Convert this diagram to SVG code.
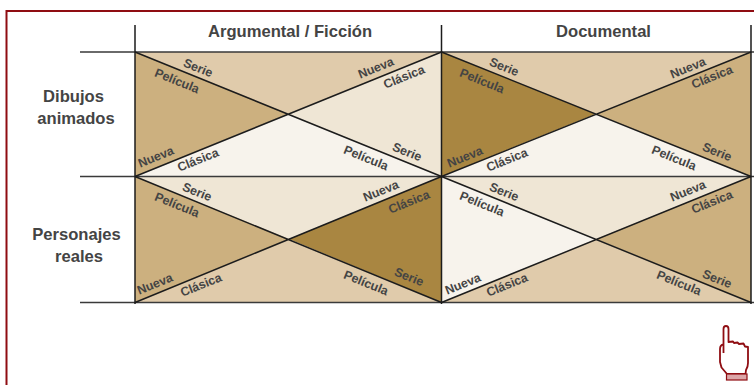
<svg xmlns="http://www.w3.org/2000/svg" width="754" height="385" viewBox="0 0 754 385">
<style>
.a{fill:#e0cbab}.b{fill:#ccb07f}.c{fill:#f7f3ec}.d{fill:#efe6d5}.e{fill:#a98641}
.l{stroke:#1c1c1c;stroke-width:1.5;fill:none}
.g{stroke:#3a3a3a;stroke-width:1.5;fill:none}
text{font-family:"Liberation Sans",Arial,sans-serif;font-weight:bold;fill:#444}
.h{font-size:16.6px;text-anchor:middle}
.s{font-size:12.4px;text-anchor:middle;dominant-baseline:central}
</style>
<rect width="754" height="385" fill="#fff"/>
<path d="M6.500 385V11H754" fill="none" stroke="#8f0d12" stroke-width="2"/>
<g id="cell-argumental-dibujos">
<polygon class="a" points="135,52 441.5,52 288,114"/>
<polygon class="b" points="135,52 288,114 135,176.5"/>
<polygon class="c" points="135,176.5 288,114 441.5,176.5"/>
<polygon class="d" points="441.5,52 288,114 441.5,176.5"/>
<text class="s" transform="translate(198,68) rotate(22)">Serie</text>
<text class="s" transform="translate(177,81) rotate(22)">Película</text>
<text class="s" transform="translate(156,157) rotate(-22)">Nueva</text>
<text class="s" transform="translate(198,160) rotate(-22)">Clásica</text>
<text class="s" transform="translate(376,68) rotate(-22)">Nueva</text>
<text class="s" transform="translate(404,77) rotate(-22)">Clásica</text>
<text class="s" transform="translate(366,158) rotate(22)">Película</text>
<text class="s" transform="translate(407,152) rotate(22)">Serie</text>
</g>
<g id="cell-documental-dibujos">
<polygon class="a" points="441.5,52 751,52 596,114"/>
<polygon class="e" points="441.5,52 596,114 441.5,176.5"/>
<polygon class="c" points="441.5,176.5 596,114 751,176.5"/>
<polygon class="b" points="751,52 596,114 751,176.5"/>
<text class="s" transform="translate(504,67) rotate(22)">Serie</text>
<text class="s" transform="translate(482,81) rotate(22)">Película</text>
<text class="s" transform="translate(465,157) rotate(-22)">Nueva</text>
<text class="s" transform="translate(507,160) rotate(-22)">Clásica</text>
<text class="s" transform="translate(688,68) rotate(-22)">Nueva</text>
<text class="s" transform="translate(712,77) rotate(-22)">Clásica</text>
<text class="s" transform="translate(674,158) rotate(22)">Película</text>
<text class="s" transform="translate(717,152) rotate(22)">Serie</text>
</g>
<g id="cell-argumental-personajes">
<polygon class="d" points="135,176.5 441.5,176.5 289,239"/>
<polygon class="b" points="135,176.5 289,239 135,302.5"/>
<polygon class="a" points="135,302.5 289,239 441.5,302.5"/>
<polygon class="e" points="441.5,176.5 289,239 441.5,302.5"/>
<text class="s" transform="translate(197,192) rotate(22)">Serie</text>
<text class="s" transform="translate(177,205) rotate(22)">Película</text>
<text class="s" transform="translate(155,284) rotate(-22)">Nueva</text>
<text class="s" transform="translate(201,285) rotate(-22)">Clásica</text>
<text class="s" transform="translate(381,191) rotate(-22)">Nueva</text>
<text class="s" transform="translate(409,202) rotate(-22)">Clásica</text>
<text class="s" transform="translate(366,283) rotate(22)">Película</text>
<text class="s" transform="translate(409,277) rotate(22)">Serie</text>
</g>
<g id="cell-documental-personajes">
<polygon class="d" points="441.5,176.5 751,176.5 596,239"/>
<polygon class="c" points="441.5,176.5 596,239 441.5,302.5"/>
<polygon class="a" points="441.5,302.5 596,239 751,302.5"/>
<polygon class="b" points="751,176.5 596,239 751,302.5"/>
<text class="s" transform="translate(504,192) rotate(22)">Serie</text>
<text class="s" transform="translate(482,204) rotate(22)">Película</text>
<text class="s" transform="translate(463,284) rotate(-22)">Nueva</text>
<text class="s" transform="translate(507,285) rotate(-22)">Clásica</text>
<text class="s" transform="translate(688,191) rotate(-22)">Nueva</text>
<text class="s" transform="translate(712,202) rotate(-22)">Clásica</text>
<text class="s" transform="translate(679,283) rotate(22)">Película</text>
<text class="s" transform="translate(717,279) rotate(22)">Serie</text>
</g>
<g id="connectors">
<path class="g" d="M80 52H754M80 176.500H754M80 302.500H754"/>
<path class="l" d="M135 25V304M441.500 25V304M751 25V304"/>
<path class="l" d="M135 52L441.500 176.500M135 176.500L441.500 52M441.500 52L751 176.500M441.500 176.500L751 52M135 176.500L441.500 302.500M135 302.500L441.500 176.500M441.500 176.500L751 302.500M441.500 302.500L751 176.500"/>
</g>
<g id="header-argumental"><text class="h" x="290" y="36.500">Argumental / Ficción</text></g>
<g id="header-documental"><text class="h" x="603.500" y="36.500">Documental</text></g>
<g id="row-dibujos"><text class="h" x="73.500" y="102">Dibujos</text><text class="h" x="76" y="124">animados</text></g>
<g id="row-personajes"><text class="h" x="76.500" y="240">Personajes</text><text class="h" x="79" y="262">reales</text></g>
<g id="hand">
<path d="M723.500 346V329Q723.500 326 726 326Q728.500 326 728.500 329V342L733 341.500L734 343L737.500 342.500L739 344L743.500 343.500L745 346.500L748 347V363Q748 367 746 370L745.500 374H727L721.500 367.500L720 362V349Q720 345 723.500 344.500L723.500 353" fill="#fff" stroke="#8f0d12" stroke-width="1.800" stroke-linejoin="round"/>
<rect x="726.500" y="374" width="20.500" height="6" fill="#dca6a8" stroke="#8f0d12" stroke-width="1.200"/>
</g>
</svg>
